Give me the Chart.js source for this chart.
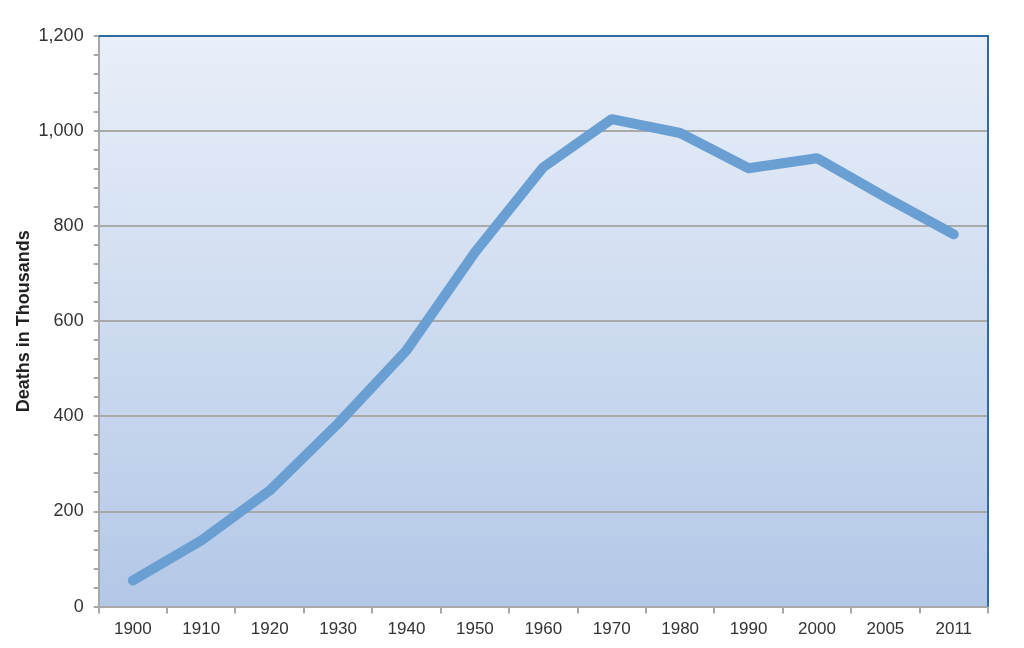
<!DOCTYPE html>
<html>
<head>
<meta charset="utf-8">
<script src="https://cdn.jsdelivr.net/npm/chart.js@4.4.0/dist/chart.umd.min.js"></script>
<style>
  html, body { margin: 0; padding: 0; background: #fff; }
  #wrap { width: 1024px; height: 648px; }
</style>
</head>
<body>
<div id="wrap"><canvas id="myChart"></canvas></div>
<script>
const years = ['1900', '1910', '1920', '1930', '1940', '1950', '1960', '1970', '1980', '1990', '2000', '2005', '2011']
const deaths = [55, 139, 244, 385, 539, 745, 924, 1025, 996, 922, 943, 861, 783]
const yMax = 1200
const yMajorStep = 200
const yMinorStep = 40

// gradient background + dark blue top/right frame
const plotBackground = {
  id: 'plotBackground',
  beforeDraw (chart) {
    const { ctx, chartArea: a } = chart
    const g = ctx.createLinearGradient(0, a.top, 0, a.bottom)
    g.addColorStop(0, '#e9eff9')
    g.addColorStop(1, '#b3c8e7')
    ctx.save()
    ctx.fillStyle = g
    ctx.fillRect(a.left, a.top, a.width, a.height)
    ctx.restore()
  },
  afterDatasetsDraw (chart) {
    const { ctx, chartArea: a } = chart
    ctx.save()
    ctx.strokeStyle = '#2f6aa0'
    ctx.lineWidth = 2
    ctx.beginPath()
    ctx.moveTo(a.left, a.top)
    ctx.lineTo(a.right, a.top)
    ctx.lineTo(a.right, a.bottom)
    ctx.stroke()
    ctx.restore()
  }
}

new Chart(document.getElementById('myChart'), {
  type: 'line',
  data: {
    labels: years,
    datasets: [{
      label: 'Deaths',
      data: deaths,
      borderColor: '#6a9fd3',
      borderWidth: 10,
      borderCapStyle: 'round',
      borderJoinStyle: 'round',
      pointRadius: 0,
      tension: 0,
      fill: false
    }]
  },
  options: {
    responsive: true,
    maintainAspectRatio: false,
    animation: false,
    layout: { padding: { top: 36, right: 36, bottom: 2, left: 7 } },
    plugins: {
      legend: { display: false },
      tooltip: { enabled: false }
    },
    scales: {
      x: {
        offset: true,
        grid: {
          offset: true,
          drawOnChartArea: false,
          drawTicks: true,
          tickLength: 7,
          color: '#a8a8a8',
          lineWidth: 2
        },
        border: { display: true, color: '#a8a8a8', width: 2 },
        ticks: {
          color: '#333',
          padding: 6,
          maxRotation: 0,
          autoSkip: false,
          font: { family: 'Liberation Sans, Arial, sans-serif', size: 17 }
        }
      },
      y: {
        min: 0,
        max: yMax,
        title: {
          display: true,
          text: 'Deaths in Thousands',
          color: '#222',
          padding: { top: 6, bottom: -6 },
          font: { family: 'Liberation Sans, Arial, sans-serif', size: 18, weight: 'bold' }
        },
        grid: {
          color: c => (c.tick && c.tick.value % yMajorStep === 0 && c.tick.value !== yMax) ? '#a9a9a9' : 'rgba(0,0,0,0)',
          tickColor: '#a8a8a8',
          lineWidth: 2,
          tickLength: 5
        },
        border: { display: true, color: '#a8a8a8', width: 2 },
        ticks: {
          stepSize: yMinorStep,
          autoSkip: false,
          color: '#333',
          padding: 10,
          font: { family: 'Liberation Sans, Arial, sans-serif', size: 18 },
          callback: v => v % yMajorStep === 0 ? v.toLocaleString('en-US') : ''
        }
      }
    }
  },
  plugins: [plotBackground]
})
</script>
</body>
</html>
